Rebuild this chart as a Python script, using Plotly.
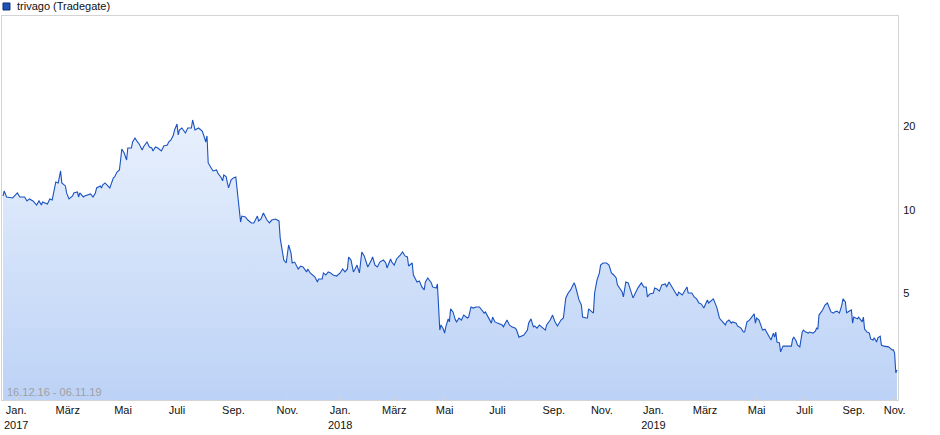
import plotly.graph_objects as go

# trading-session index (0 = 16.12.2016 ... 745 = 06.11.2019)
session = [0, 1, 3, 8, 12, 14, 18, 20, 22, 25, 28, 30, 32, 33, 37, 39, 41, 43, 44, 46, 48, 49, 52, 53, 55, 58, 59, 62, 63, 64, 67, 68, 70, 73, 75, 77, 78, 81, 82, 83, 85, 87, 89, 92, 93, 95, 97, 98, 99, 101, 102, 103, 104, 107, 108, 110, 112, 113, 116, 117, 120, 122, 124, 125, 127, 129, 132, 134, 137, 138, 140, 142, 143, 145, 146, 147, 149,
           152, 154, 157, 158, 160, 163, 166, 168, 169, 170, 171, 173, 175, 178, 179, 182, 183, 184, 186, 187, 188, 190, 192, 194, 195, 197, 198, 199, 202, 204, 207, 209, 212, 213, 215, 217, 218, 220, 222, 224, 227, 230, 231, 233, 234, 236, 237, 238, 240, 241, 243, 245, 246, 248, 250, 253, 254, 256, 258, 260, 262, 263, 266, 267, 269, 271, 273, 275, 278, 281, 283, 285, 287, 288, 290, 292, 293, 295, 297, 298, 299,
           301, 303, 304, 307, 308, 310, 312, 314, 317, 319, 320, 323, 324, 326, 328, 331, 333, 335, 337, 338, 341, 342, 343, 345, 347, 349, 351, 352, 354, 357, 358, 361, 362, 363, 364, 365, 367, 368, 369, 371, 372, 373, 375, 377, 378, 380, 382, 384, 387, 388, 390, 392, 394, 397, 399, 401, 402, 404, 407, 408, 410, 412, 416, 417, 420, 422, 424, 427, 428, 430, 432, 434, 437, 438, 440, 442, 443, 445, 447,
           450, 452, 453, 456, 458, 460, 462, 465, 467, 469, 471, 473, 475, 476, 477, 479, 480, 482, 483, 486, 487, 488, 491, 492, 493, 495, 497, 498, 500, 503, 505, 507, 509, 511, 512, 514, 516, 517, 519, 521, 523, 525, 527, 529, 532, 534, 536, 537, 539, 542, 543, 545, 547, 549, 552, 553, 555, 557, 559, 562, 563, 566, 567, 570, 571, 574, 576, 578, 580, 582, 584, 587, 588, 591, 592, 595, 597,
           599, 602, 603, 605, 607, 608, 611, 612, 615, 617, 618, 620, 622, 625, 626, 627, 628, 630, 632, 633, 635, 637, 638, 640, 642, 643, 644, 645, 647, 648, 650, 652, 654, 657, 658, 659, 661, 662, 664, 666, 667, 669, 671, 672, 675, 677, 678, 679, 680, 682, 683, 685, 687, 688, 690, 692, 693, 695, 697, 699, 700, 702, 703, 704, 707, 708, 709, 712, 713, 716, 717, 718, 720, 722, 723, 725, 726, 728, 729, 731, 732, 734, 737, 738, 741, 742, 743, 744, 745]

price = [11.23, 11.71, 11.14, 11.05, 11.52, 11.14, 11.14, 10.78, 10.96, 10.78, 10.42, 10.78, 10.42, 10.69, 10.51, 10.96, 10.87, 12.31, 12.62, 12.52, 13.83, 12.52, 12.21, 11.52, 10.96, 11.23, 11.52, 11.61, 11.14, 11.52, 11.14, 11.23, 11.33, 11.42, 11.14, 11.52, 12.01, 12.21, 12.01, 12.31, 12.52, 12.31, 12.01, 13.05, 13.16, 13.71, 13.94, 15.15, 16.60, 16.05, 15.53, 15.15, 16.73, 16.73, 17.59, 18.18, 17.59, 17.44, 16.46, 16.87, 17.59, 16.87, 16.73, 16.32, 16.87, 16.73, 16.32, 17.01, 17.16, 17.59, 17.88, 18.64, 19.43, 20.42, 18.64, 19.43, 19.75,
         18.95, 19.75, 19.75, 21.11, 19.43, 19.75, 19.27, 18.18, 17.59, 18.49, 14.78, 14.29, 13.83, 13.94, 13.60, 13.05, 12.73, 13.38, 13.16, 12.52, 12.01, 12.83, 13.05, 13.16, 12.01, 10.00, 9.05, 9.51, 9.44, 9.20, 8.98, 8.98, 9.51, 9.13, 9.28, 9.75, 9.51, 9.20, 8.98, 9.20, 9.28, 9.13, 7.92, 6.88, 6.60, 6.44, 7.06, 7.48, 7.00, 6.44, 6.49, 6.23, 6.13, 6.28, 6.23, 5.98, 6.13, 5.93, 5.83, 5.73, 5.50, 5.64, 5.64, 5.93, 5.83, 5.98, 5.93, 5.83, 5.78, 5.93, 6.13, 5.98, 6.13, 6.77, 6.60, 5.98, 6.08, 6.33, 5.93, 6.44, 7.06,
         6.83, 6.44, 6.23, 6.60, 6.77, 6.33, 6.23, 6.49, 6.60, 6.44, 6.18, 6.66, 6.49, 6.33, 6.66, 6.88, 7.06, 6.83, 6.77, 6.28, 6.44, 5.83, 5.69, 5.50, 5.55, 5.28, 5.15, 5.50, 5.69, 5.46, 5.28, 5.23, 5.41, 4.54, 3.69, 3.85, 3.72, 3.60, 3.79, 4.05, 3.95, 4.40, 4.29, 4.01, 3.95, 4.08, 4.01, 4.18, 4.08, 4.11, 4.47, 4.43, 4.47, 4.47, 4.36, 4.25, 4.29, 4.11, 3.91, 4.11, 3.95, 3.91, 3.85, 3.79, 4.01, 3.85, 3.79, 3.75, 3.69, 3.48, 3.51, 3.54, 3.69, 3.91, 4.05, 3.79, 3.82, 3.75, 3.85,
         3.75, 3.69, 3.85, 4.01, 4.18, 3.95, 3.82, 4.01, 4.08, 4.82, 5.02, 5.15, 5.37, 5.46, 5.32, 4.86, 4.74, 4.54, 4.11, 4.08, 4.08, 4.40, 4.29, 4.25, 5.02, 5.59, 5.93, 6.33, 6.44, 6.44, 6.33, 5.93, 5.83, 5.69, 5.37, 5.23, 5.06, 4.86, 5.50, 5.46, 5.15, 4.82, 5.02, 5.23, 5.46, 5.28, 5.28, 4.86, 4.98, 5.02, 5.23, 5.19, 5.10, 5.37, 5.41, 5.28, 5.50, 5.32, 5.19, 4.90, 5.06, 4.94, 5.02, 5.28, 5.02, 5.02, 4.86, 4.78, 4.62, 4.58, 4.43, 4.74, 4.62, 4.74, 4.78, 4.43, 4.08,
         3.98, 3.85, 3.95, 4.01, 3.91, 3.95, 3.91, 3.82, 3.75, 3.63, 3.63, 3.95, 4.01, 4.18, 4.22, 3.91, 4.08, 4.01, 3.79, 3.69, 3.72, 3.60, 3.54, 3.40, 3.60, 3.48, 3.63, 3.34, 3.32, 3.08, 3.23, 3.23, 3.23, 3.23, 3.43, 3.48, 3.37, 3.26, 3.21, 3.63, 3.69, 3.63, 3.60, 3.63, 3.60, 3.66, 3.75, 3.72, 4.18, 4.29, 4.36, 4.54, 4.62, 4.51, 4.29, 4.25, 4.29, 4.32, 4.25, 4.54, 4.78, 4.66, 4.25, 4.29, 4.36, 3.91, 4.11, 4.05, 4.11, 3.95, 4.11, 3.72, 3.63, 3.60, 3.43, 3.40, 3.46, 3.34, 3.46, 3.51, 3.26, 3.23, 3.23, 3.21, 3.13, 3.13, 3.05, 2.59, 2.65]

month_ticks = [11, 54, 100, 145, 192, 237, 281, 326, 368, 412, 459, 499, 542, 585, 628, 668, 709, 743]
month_labels = ["Jan.<br>2017", "März", "Mai", "Juli", "Sep.", "Nov.",
                "Jan.<br>2018", "März", "Mai", "Juli", "Sep.", "Nov.",
                "Jan.<br>2019", "März", "Mai", "Juli", "Sep.", "Nov."]
y_ticks = [5, 10, 20]
y_labels = ["5", "10", "20"]
y_min, y_max = 2.065, 50.06

series_name = "trivago (Tradegate)"
period_text = "16.12.16 - 06.11.19"

FONT = "Liberation Sans, Arial, sans-serif"

fig = go.Figure()
fig.add_trace(go.Scatter(
    x=session, y=price, mode="lines",
    line=dict(color="#1a52c0", width=1.1),
    fill="tozeroy",
    fillgradient=dict(type="vertical", start=y_min, stop=y_max,
                      colorscale=[[0, "#bcd2f6"], [1, "#f8fbff"]]),
    hoverinfo="skip", showlegend=False,
))

fig.update_layout(
    width=940, height=435,
    margin=dict(l=2, r=42, t=16, b=35),
    paper_bgcolor="white", plot_bgcolor="white",
    font=dict(family=FONT, size=11, color="#222"),
    xaxis=dict(range=[-0.83, 745.83], tickmode="array", tickvals=month_ticks,
               ticktext=month_labels, showgrid=False, zeroline=False,
               showline=True, linecolor="#d4d4d4", linewidth=1, mirror=True,
               ticks="inside", ticklen=3, tickcolor="#d4d4d4",
               tickfont=dict(size=11, color="#111")),
    yaxis=dict(type="log", range=[0.315, 1.6994], side="right",
               tickmode="array", tickvals=y_ticks, ticktext=y_labels,
               showgrid=False, zeroline=False,
               showline=True, linecolor="#d4d4d4", linewidth=1, mirror=True,
               ticks="", ticklabelstandoff=2,
               tickfont=dict(size=11, color="#111")),
    shapes=[dict(type="rect", xref="paper", yref="paper",
                 x0=0.0011, x1=0.0089, y0=1.0156, y1=1.0339,
                 fillcolor="#1f52b8", line=dict(color="#0d2f78", width=1))],
    annotations=[
        dict(text=series_name, xref="paper", yref="paper", x=0, y=1,
             xanchor="left", yanchor="middle", xshift=13, yshift=10,
             showarrow=False, font=dict(size=11, color="#111")),
        dict(text=period_text, xref="paper", yref="paper", x=0, y=0,
             xanchor="left", yanchor="bottom", xshift=3, yshift=0,
             showarrow=False, font=dict(size=11, color="#a0a0a0")),
    ],
)

fig.write_html("out.html", config={"displayModeBar": False},
               post_script="document.body.style.margin='0px';")
